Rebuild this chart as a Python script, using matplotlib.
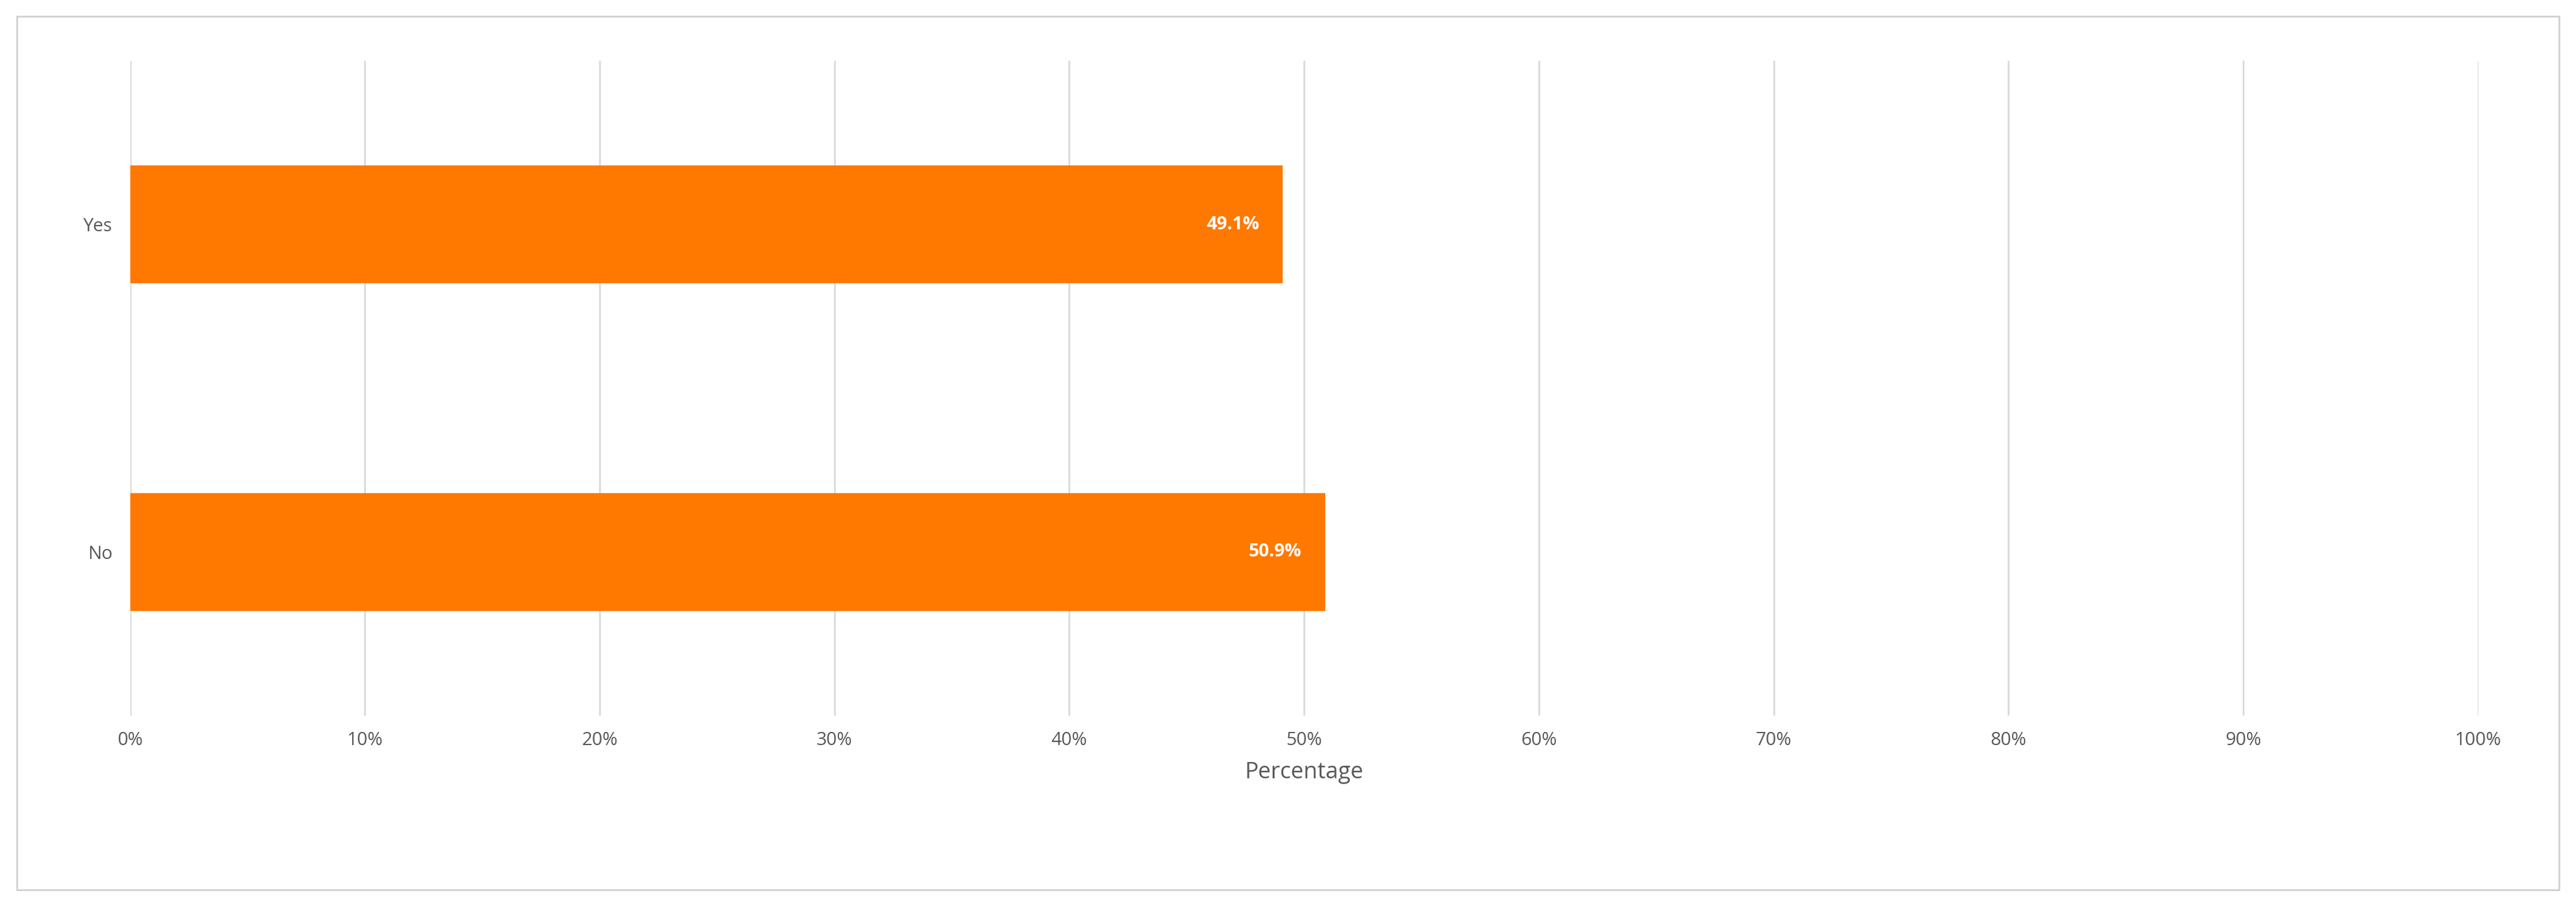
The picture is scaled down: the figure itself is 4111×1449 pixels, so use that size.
import matplotlib
matplotlib.use("Agg")
import matplotlib.pyplot as plt
from matplotlib.patches import Rectangle
from matplotlib.ticker import FuncFormatter

categories = ["No", "Yes"]
values = [50.9, 49.1]
xticks = [0, 10, 20, 30, 40, 50, 60, 70, 80, 90, 100]

fig = plt.figure(figsize=(41.11, 14.49), dpi=100)
plt.rcParams['font.family'] = ['Open Sans', 'DejaVu Sans']
fig.patches.append(Rectangle((0.0065, 0.02), 0.987, 0.962, transform=fig.transFigure,
                             fill=False, edgecolor='#d0d0d0', linewidth=2))
ax = fig.add_axes([0.0505, 0.212, 0.9115, 0.721])
ax.barh(categories, values, height=0.36, color='#FF7800', zorder=3)
for i, v in enumerate(values):
    ax.text(v - 1.0, i, f"{v:.1f}%", color='white', fontweight='bold', fontsize=21,
            ha='right', va='center', zorder=4)
ax.set_xlim(0, 100)
ax.set_ylim(-0.5, 1.5)
ax.set_xticks(xticks)
ax.xaxis.set_major_formatter(FuncFormatter(lambda x, p: f"{x:.0f}%"))
ax.grid(axis='x', color='#d9d9d9', linewidth=2, zorder=0)
for s in ax.spines.values():
    s.set_visible(False)
ax.tick_params(axis='both', length=0, labelsize=21, colors='#595959', pad=18)
ax.tick_params(axis='y', pad=20)
ax.set_xlabel("Percentage", fontsize=26, color='#595959', labelpad=14)
fig.savefig("out.png", dpi=100)
